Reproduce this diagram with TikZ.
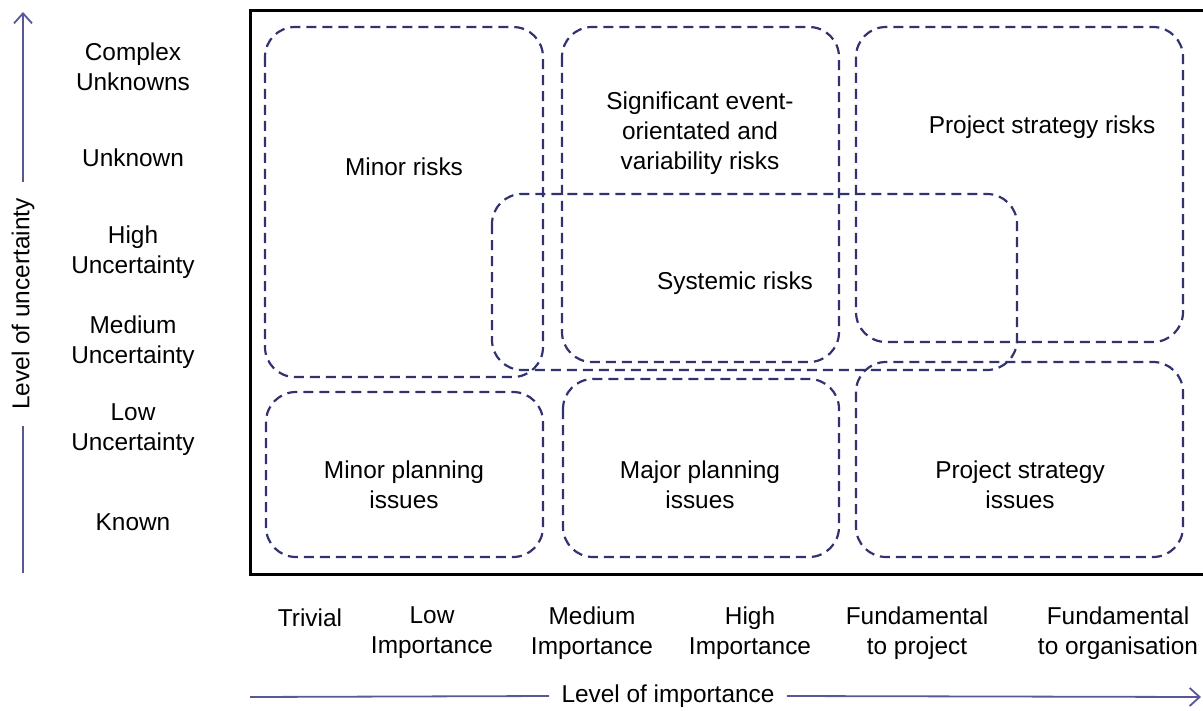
\documentclass[tikz,border=0pt]{standalone}
\usepackage{fontspec}
\setmainfont{Liberation Sans}
\usetikzlibrary{arrows.meta}

\definecolor{boxblue}{RGB}{50,50,112}
\definecolor{axisblue}{RGB}{88,88,152}

\tikzset{
  riskbox/.style={draw=boxblue, line width=1.1pt, dash pattern=on 5pt off 3pt, rounded corners=15pt},
  txt/.style={align=center, font=\fontsize{12.2}{15}\selectfont, inner sep=0pt},
  axisline/.style={axisblue, line width=0.9pt},
  axistip/.style={-{Straight Barb[length=5pt,width=9pt]}},
}

\begin{document}
\begin{tikzpicture}[x=0.5pt, y=-0.5pt]
        \useasboundingbox (0,0) rectangle (1203,711);

        % frame (open to the right)
        \draw[line width=1.5pt] (1212,11) -- (250,11) -- (250,574) -- (1212,574);

        % risk areas
        \draw[riskbox] (265,27) rectangle (543,377);   % minor risks
        \draw[riskbox] (562,27) rectangle (839,362);   % event / variability
        \draw[riskbox] (856,27) rectangle (1183,342);  % strategy risks
        \draw[riskbox] (492,194) rectangle (1017,370); % systemic
        \draw[riskbox] (266,392) rectangle (543,557);  % minor planning
        \draw[riskbox] (563,379) rectangle (839,557);  % major planning
        \draw[riskbox] (856,362) rectangle (1183,557); % strategy issues

        \node[txt] (minorrisk) at (404,167) {Minor risks};
        \node[txt] (sigrisk) at (700,133) {Significant event-\\orientated and\\variability risks};
        \node[txt] (psrisk) at (1042,127) {Project strategy risks};
        \node[txt] (sysrisk) at (735,283) {Systemic risks};
        \node[txt] (minorplan) at (404,485) {Minor planning\\issues};
        \node[txt] (majorplan) at (700,485) {Major planning\\issues};
        \node[txt] (psissue) at (1020,485) {Project strategy\\issues};

        % uncertainty scale
        \foreach \y/\t/\n in {67/{Complex\\Unknowns}/complex, 158/{Unknown}/unknown,
                              252/{High\\Uncertainty}/high, 342/{Medium\\Uncertainty}/medium,
                              430/{Low\\Uncertainty}/low, 522/{Known}/known} {
            \node[txt] (\n) at (133,\y) {\t};
        }

        % importance scale
        \node[txt] (trivial) at (310,618) {Trivial};
        \foreach \x/\t/\n in {432/{Low\\Importance}/lowimp, 592/{Medium\\Importance}/medimp,
                              750/{High\\Importance}/highimp, 917/{Fundamental\\to project}/fundproj,
                              1118/{Fundamental\\to organisation}/fundorg} {
            \node[txt] (\n) at (\x,633) {\t};
        }

        % axes
        \coordinate (ytop) at (23,12);
        \coordinate (ybot) at (23,573);
        \node[txt, rotate=90, inner xsep=8pt] (ylab) at (23,304) {Level of uncertainty};
        \draw[axisline, axistip] (ylab.east) -- (ytop);
        \draw[axisline] (ylab.west) -- (ybot);

        \coordinate (xleft) at (250,697);
        \coordinate (xright) at (1201,697);
        \node[txt, inner xsep=6pt] (xlab) at (668,696) {Level of importance};
        \draw[axisline] (xlab.west) -- (xleft);
        \draw[axisline, axistip] (xlab.east) -- (xright);

    \end{tikzpicture}
\end{document}
